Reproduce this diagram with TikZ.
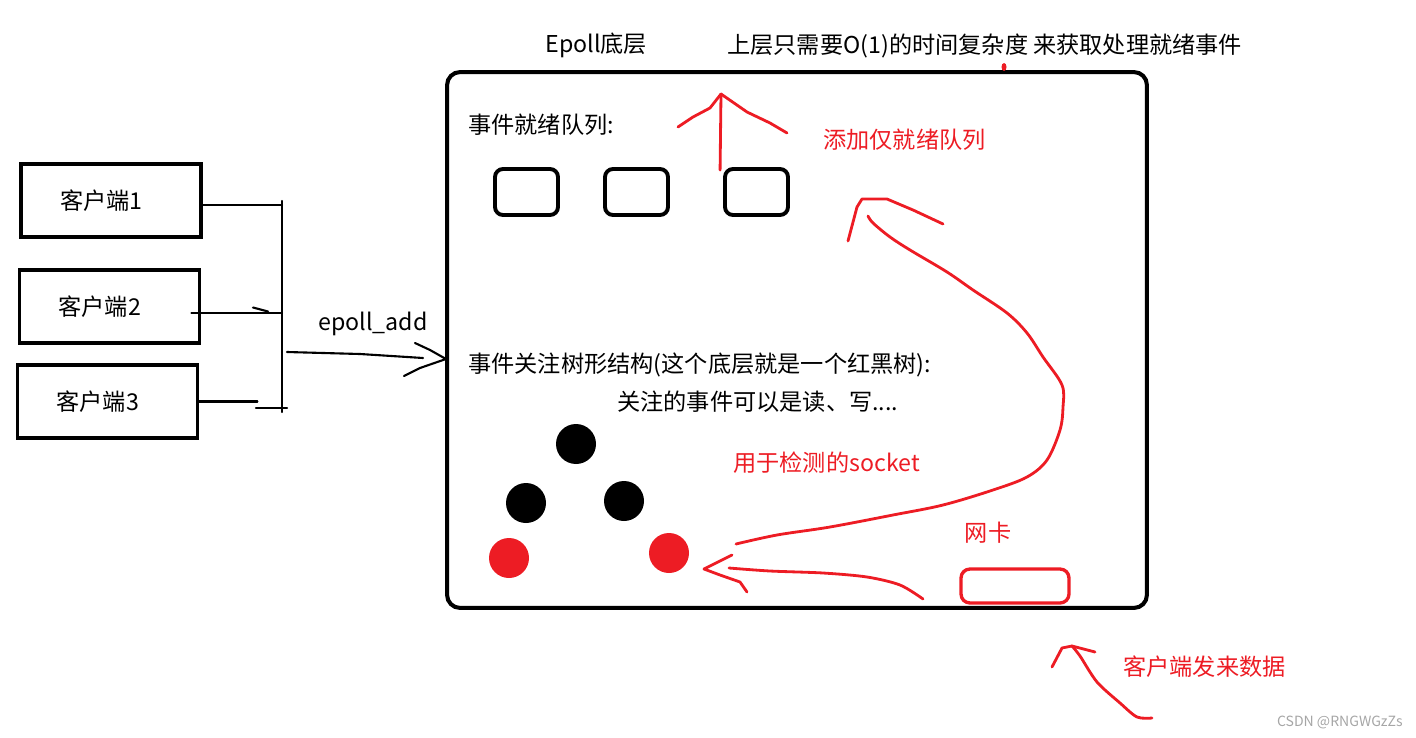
\documentclass[tikz,border=0pt]{standalone}
\usepackage{fontspec}
\setmainfont{Noto Sans CJK SC}
\usepackage{tikz}
\usetikzlibrary{calc,positioning}
\definecolor{paintred}{RGB}{237,28,36}
\newcommand{\diagfont}{\fontsize{13.2pt}{15pt}\selectfont}
\tikzset{
    clientbox/.style={
        rectangle,
        draw=black,
        line width=2.2pt,
        minimum width=3.6cm,
        minimum height=1.46cm,
        text width=2.04cm,
        inner xsep=0.78cm,
        inner ysep=0pt,
        align=left,
        font=\diagfont
    },
    epollbox/.style={
        rectangle,
        draw=black,
        line width=2.3pt,
        rounded corners=0.26cm,
        minimum width=14cm,
        minimum height=10.72cm
    },
    queuebox/.style={
        rectangle,
        draw=black,
        line width=2.2pt,
        rounded corners=0.16cm,
        minimum width=1.26cm,
        minimum height=0.92cm
    },
    nicbox/.style={
        rectangle,
        draw=paintred,
        line width=1.9pt,
        rounded corners=0.18cm,
        minimum width=2.16cm,
        minimum height=0.68cm
    },
    treenode/.style={
        circle,
        fill=black,
        minimum size=0.8cm,
        inner sep=0pt
    },
    rednode/.style={
        treenode,
        fill=paintred
    },
    note/.style={
        font=\diagfont,
        inner sep=0pt
    },
    rednote/.style={
        note,
        text=paintred
    },
    wire/.style={
        line width=1.2pt,
        line cap=round,
        line join=round
    },
    redpen/.style={
        draw=paintred,
        line width=1.6pt,
        line cap=round,
        line join=round
    }
}

\begin{document}
\begin{tikzpicture}[x=0.02cm, y=-0.02cm]
    \useasboundingbox (0,0) rectangle (1416,737);

    % Clients
    \node[clientbox] (client1) at (111,200.5) {客户端1};
    \node[clientbox] (client2) at (109.5,306.5) {客户端2};
    \node[clientbox] (client3) at (107.5,401.5) {客户端3};

    \coordinate (busTop) at (282,201);
    \coordinate (busBot) at (282,412);
    \draw[wire] ([yshift=-2.5pt]client1.east) -- ([yshift=-2.5pt]client1.east -| busTop);
    \draw[wire] ([xshift=-5.7pt, yshift=-3.7pt]client2.east) -- ([yshift=-3.7pt]client2.east -| busTop);
    \draw[wire] (client2.east -| busTop) ++(-29,1) -- ++(15,4);
    \draw[wire] (client3.east) -- ++(58,0);
    \draw[wire] (busTop) -- (busBot);
    \draw[wire] (busBot) ++(-26,-4) -- ++(31,0);

    % --- epoll_add: clients handed to the epoll instance ---
    \coordinate (addStart) at (287,352);
    \coordinate (addTip) at (446,359);
    \node[note] (addLabel) at (373,324) {epoll\_add};
    \draw[wire] (addStart) -- (360,354) -- (423,358);
    \draw[wire] (addTip) ++(-31,-16) -- ++(15,7) -- (addTip) -- ++(-26,9) -- ++(-16,8);

    % Epoll internals
    \node[epollbox] (epoll) at (797,340) {};
    \node[note, anchor=west] (title) at (545,45) {Epoll底层};
    \node[note, anchor=west] (upperNote) at (727,46) {上层只需要O(1)的时间复杂度 来获取处理就绪事件};
    \fill[paintred] (1004,67) ellipse [x radius=0.05cm, y radius=0.08cm];

    % ready queue
    \node[note, anchor=west] (queueLabel) at (468,125) {事件就绪队列:};
    \node[queuebox] (q1) at (526.5,192) {};
    \node[queuebox] (q2) at (636.5,192) {};
    \node[queuebox] (q3) at (756.5,192) {};
    \node[rednote, anchor=west] (addQueue) at (823,140) {添加仅就绪队列};

    % watched tree
    \node[note, anchor=west] (treeLabel) at (468,365) {事件关注树形结构(这个底层就是一个红黑树):};
    \node[note, anchor=west] (treeNote) at (617,402) {关注的事件可以是读、写....};
    \node[treenode] (b1) at (576,444) {};
    \node[treenode] (b2) at (526,503) {};
    \node[treenode] (b3) at (624,501) {};
    \node[rednode] (r1) at (509,558) {};
    \node[rednode] (r2) at (669,553) {};
    \node[rednote, anchor=west] (socketNote) at (733,463) {用于检测的socket};

    % network card
    \node[rednote] (nicLabel) at (988,533) {网卡};
    \node[nicbox] (nic) at (1015,586) {};
    \node[rednote, anchor=west] (dataNote) at (1123,667) {客户端发来数据};

    % --- Red strokes: data path up to the ready queue ---
    \coordinate (upTip) at (721,94);
    \draw[redpen] ($(q3.north west)+(-3,3)$) -- (upTip);
    \draw[redpen] (upTip) -- ++(-11,14) -- ++(-17,9) -- ++(-15,10);
    \draw[redpen] (upTip) -- ++(26,18) -- ++(23,11) -- ++(17,10);

    \coordinate (loopStart) at (736,544);
    \coordinate (loopTip) at (868,216);
    \coordinate (loopHead) at (862,199);
    \draw[redpen] plot[smooth, tension=0.55] coordinates {(loopStart) (777,535) (830,527) (893,515) (943,505) (993,490) (1027,477) (1047,460) (1060,430) (1063,407) (1062,385) (1043,357) (1027,333) (1007,313) (973,290) (947,272) (910,250) (890,237) (873,223) (loopTip)};
    \draw[redpen] (loopHead) ++(-14,42) -- ++(9,-34) -- ++(5,-8) -- ++(25,0) -- ++(26,11) -- ++(30,14);

    \coordinate (nicOut) at (923,599);
    \coordinate (sockTip) at (704,569);
    \draw[redpen] plot[smooth] coordinates {(nicOut) (900,585) (867,577) (823,573) (770,571) (729,568)};
    \draw[redpen] (sockTip) ++(28,-14) -- ++(-14,7) -- (sockTip) -- ++(16,6) -- ++(20,7) -- ++(7,10);

    \coordinate (dataStart) at (1152,718);
    \coordinate (dataTip) at (1072,646);
    \draw[redpen] plot[smooth] coordinates {(dataStart) (1137,717) (1120,703) (1097,682) (1080,656) (dataTip)};
    \draw[redpen] (dataTip) ++(-20,21) -- ++(10,-19) -- (dataTip) -- ++(23,6);

    \node[font=\fontsize{8pt}{9pt}\selectfont, text=gray!70, anchor=east, inner sep=0pt] (watermark) at (1403,722) {CSDN @RNGWGzZs};

\end{tikzpicture}
\end{document}
